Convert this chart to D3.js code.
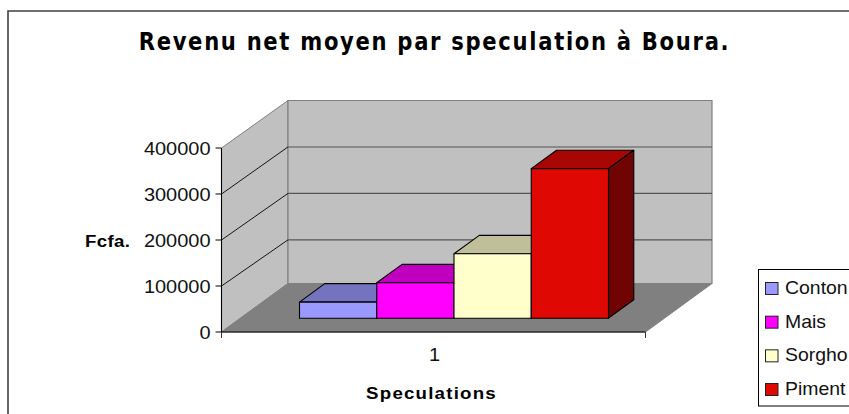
<!DOCTYPE html>
<html><head><meta charset="utf-8">
<script src="https://cdnjs.cloudflare.com/ajax/libs/d3/7.8.5/d3.min.js"></script>
<style>html,body{margin:0;padding:0;background:#fff;overflow:hidden}svg{display:block}</style>
</head><body><div id="c"></div>
<script>
const titleText = "Revenu net moyen par speculation à Boura.";
const yTitle = "Fcfa.";
const xTitle = "Speculations";
const categories = ["1"];
const seriesNames = ["Conton", "Mais", "Sorgho", "Piment"];
const seriesValues = [35000, 77000, 140000, 325000];
const frontColors = ["#9999FF", "#FF00FF", "#FFFFCC", "#DF0803"];
const topColors = ["#7373BF", "#BF00BF", "#BFBF99", "#A70602"];
const sideColors = ["#4D4D80", "#800080", "#808066", "#700402"];
const yTicks = [0, 100000, 200000, 300000, 400000];

const W = 849, H = 414;
const svg = d3.select("#c").append("svg").attr("width", W).attr("height", H);
const sans = "'Liberation Sans', Arial, sans-serif";

const y = d3.scaleLinear().domain([0, 400000]).range([332, 148]);
const yBack = d3.scaleLinear().domain([0, 400000]).range([286.3, 100.5]);
const xCat = d3.scaleBand().domain(categories).range([221.5, 645.5]);
const depth = {dx: 66.5, dy: -48.5};
const barDepth = {start: 0.285, end: 0.665};
const barX = d3.scaleBand().domain(seriesNames).range([299.5, 608.5]);
const line = d3.line();
const at = (px, py, t) => [px + depth.dx * t, py + depth.dy * t];

const left = xCat.range()[0], right = xCat.range()[1];
const v0 = y(0), vMax = y(400000);
const backL = left + depth.dx, backR = right + depth.dx;
const backFloor = at(0, v0, 1)[1];

// border
svg.append("path").attr("d", `M8,${H + 2}V11H${W + 2}`).attr("fill", "none").attr("stroke", "#404040").attr("stroke-width", 1.6);

// walls
svg.append("path").attr("d", line([[left, v0], [backL, backFloor], [backL, yBack(400000)], [left, vMax]]) + "Z")
  .attr("fill", "#C0C0C0").attr("stroke", "#808080");
svg.append("path").attr("d", line([[backL, backFloor], [backR, backFloor], [backR, yBack(400000)], [backL, yBack(400000)]]) + "Z")
  .attr("fill", "#C0C0C0").attr("stroke", "#808080").attr("stroke-width", 1.2);

// gridlines
const mid = yTicks.slice(1, -1);
svg.selectAll(".gb").data(mid).join("path").attr("class", "gb")
  .attr("d", d => line([[backL, yBack(d)], [backR, yBack(d)]]))
  .attr("stroke", "#555").attr("stroke-width", 1.1).attr("fill", "none");
svg.selectAll(".gl").data(mid).join("path").attr("class", "gl")
  .attr("d", d => line([[left, y(d)], [backL, yBack(d)]]))
  .attr("stroke", "#000").attr("stroke-width", 0.9).attr("fill", "none");

// floor
svg.append("path").attr("d", line([[left, v0], [right, v0], at(right, v0, 1), at(left, v0, 1)]) + "Z")
  .attr("fill", "#808080").attr("stroke", "#808080");

// bars
const bars = svg.selectAll(".bar").data(seriesNames.map((n, i) => ({n, i, v: seriesValues[i]}))).join("g").attr("class", "bar");
const floorY = at(0, v0, barDepth.start)[1];
const barH = v => y(0) - y(v);
const backD = (barDepth.end - barDepth.start);
bars.each(function (d) {
  const g = d3.select(this);
  const x0 = barX(d.n), x1 = x0 + barX.bandwidth();
  const top = floorY - barH(d.v);
  const ox = depth.dx * backD, oy = depth.dy * backD;
  const st = s => s.attr("stroke", "#000").attr("stroke-width", 1.1).attr("stroke-linejoin", "round");
  st(g.append("path").attr("d", line([[x0, top], [x0 + ox, top + oy], [x1 + ox, top + oy], [x1, top]]) + "Z").attr("fill", topColors[d.i]));
  st(g.append("path").attr("d", line([[x1, top], [x1 + ox, top + oy], [x1 + ox, floorY + oy], [x1, floorY]]) + "Z").attr("fill", sideColors[d.i]));
  st(g.append("path").attr("d", line([[x0, top], [x1, top], [x1, floorY], [x0, floorY]]) + "Z").attr("fill", frontColors[d.i]));
});

// axes
svg.append("path").attr("d", `M${left},${vMax}V${v0}H${right}`).attr("fill", "none").attr("stroke", "#000").attr("stroke-width", 1.1);
svg.append("path").attr("d", `M${left},${v0}V${v0 + 6}M${right},${v0}V${v0 + 6}`).attr("stroke", "#333").attr("fill", "none");
svg.selectAll(".yt").data(yTicks).join("path").attr("class", "yt")
  .attr("d", d => `M${left - 6},${y(d)}H${left}`).attr("stroke", "#000");

// stretched text helper: the reference was widened horizontally
function label(text, x, yy, anchor, opts = {}) {
  const sx = opts.sx || 1.11;
  return svg.append("text").text(text)
    .attr("transform", `translate(${x},${yy}) scale(${sx},1)`)
    .attr("text-anchor", anchor)
    .attr("font-family", opts.family || sans)
    .attr("font-size", opts.size || 18)
    .attr("font-weight", opts.weight || "normal")
    .attr("letter-spacing", opts.ls || 0)
    .attr("fill", opts.fill || "#111");
}
yTicks.forEach(t => label(d3.format("d")(t), 210.5, y(t) + 7, "end"));
categories.forEach(c => label(c, xCat(c) + xCat.bandwidth() / 2 + 1, 361, "middle"));
label(yTitle, 85, 247, "start", {weight: "bold", size: 17, sx: 1.1, ls: 0.3, fill: "#000"});
label(xTitle, 431.5, 399, "middle", {weight: "bold", size: 17, sx: 1.1, ls: 1.1, fill: "#000"});
label(titleText, 434.5, 49.5, "middle", {family: "'DejaVu Sans', sans-serif", weight: "bold", size: 24, sx: 0.88, ls: 1.93, fill: "#000"});

// legend
svg.append("rect").attr("x", 758.5).attr("y", 269.5).attr("width", 120).attr("height", 136.5).attr("fill", "#fff").attr("stroke", "#000");
const ly = d3.scalePoint().domain(seriesNames).range([288.5, 389.5]);
seriesNames.forEach((n, i) => {
  svg.append("rect").attr("x", 765.5).attr("y", ly(n) - 6).attr("width", 12.5).attr("height", 12).attr("fill", frontColors[i]).attr("stroke", "#222");
  label(n, 785, ly(n) + 5.5, "start", {sx: 1.08});
});
</script></body></html>
